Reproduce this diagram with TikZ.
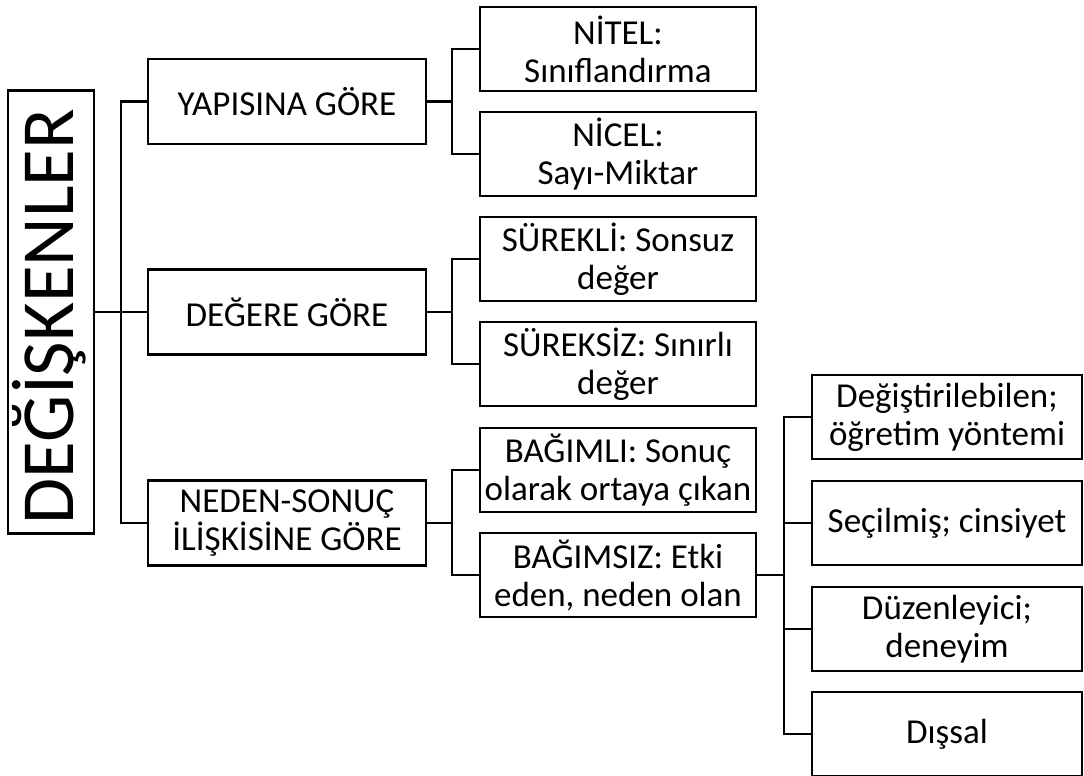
\documentclass[tikz,border=0pt]{standalone}
\usepackage{fontspec}
\setmainfont{Carlito}
\begin{document}
\begin{tikzpicture}[x=1pt,y=-1pt,
  box/.style={draw,line width=2.2pt,align=center,inner sep=0pt,
    font=\fontsize{35}{38}\selectfont},
  lone/.style={box,minimum width=278pt,minimum height=85pt},
  ltwo/.style={box,minimum width=276pt,minimum height=84pt},
  lthree/.style={box,minimum width=270pt,minimum height=84pt},
  conn/.style={line width=2.2pt}]
\useasboundingbox (0,0) rectangle (1084,776);
% root
\node[draw,line width=2.2pt,minimum width=86pt,minimum height=443pt,inner sep=0pt] (root) at (51,312) {};
\node[rotate=90,font=\fontsize{75}{80}\selectfont] (roottext) at (49,316.5) {DEĞİŞKENLER};
% level 1
\node[lone] (a) at (287,101.5) {YAPISINA GÖRE};
\node[lone] (b) at (287,312) {DEĞERE GÖRE};
\node[lone] (c) at (287,523) {NEDEN-SONUÇ\\İLİŞKİSİNE GÖRE};
% level 2
\node[ltwo] (a1) at (618,49) {NİTEL:\\Sınıflandırma};
\node[ltwo] (a2) at (618,154) {NİCEL:\\Sayı-Miktar};
\node[ltwo] (b1) at (618,259) {SÜREKLİ: Sonsuz\\değer};
\node[ltwo] (b2) at (618,364) {SÜREKSİZ: Sınırlı\\değer};
\node[ltwo] (c1) at (618,470) {BAĞIMLI: Sonuç\\olarak ortaya çıkan};
\node[ltwo] (c2) at (618,575) {BAĞIMSIZ: Etki\\eden, neden olan};
% level 3
\node[lthree] (d1) at (947,417) {Değiştirilebilen;\\öğretim yöntemi};
\node[lthree] (d2) at (947,523) {Seçilmiş; cinsiyet};
\node[lthree] (d3) at (947,629) {Düzenleyici;\\deneyim};
\node[lthree] (d4) at (947,734) {Dışsal};
% bus coordinates
\coordinate (r0) at (121,312);
\coordinate (ra) at (452,101.5);
\coordinate (rb) at (452,312);
\coordinate (rc) at (452,523);
\coordinate (rd) at (784,575);
% connectors
\draw[conn] (root.east) -- (r0);
\draw[conn] (a.west) -| (r0);
\draw[conn] (c.west) -| (r0);
\draw[conn] (b.west) -- (r0);
\draw[conn] (a.east) -- (ra);
\draw[conn] (a1.west) -| (ra);
\draw[conn] (a2.west) -| (ra);
\draw[conn] (b.east) -- (rb);
\draw[conn] (b1.west) -| (rb);
\draw[conn] (b2.west) -| (rb);
\draw[conn] (c.east) -- (rc);
\draw[conn] (c1.west) -| (rc);
\draw[conn] (c2.west) -| (rc);
\draw[conn] (c2.east) -- (rd);
\draw[conn] (d1.west) -| (rd);
\draw[conn] (d4.west) -| (rd);
\draw[conn] (d2.west) -- (d2.west -| rd);
\draw[conn] (d3.west) -- (d3.west -| rd);
\end{tikzpicture}
\end{document}
